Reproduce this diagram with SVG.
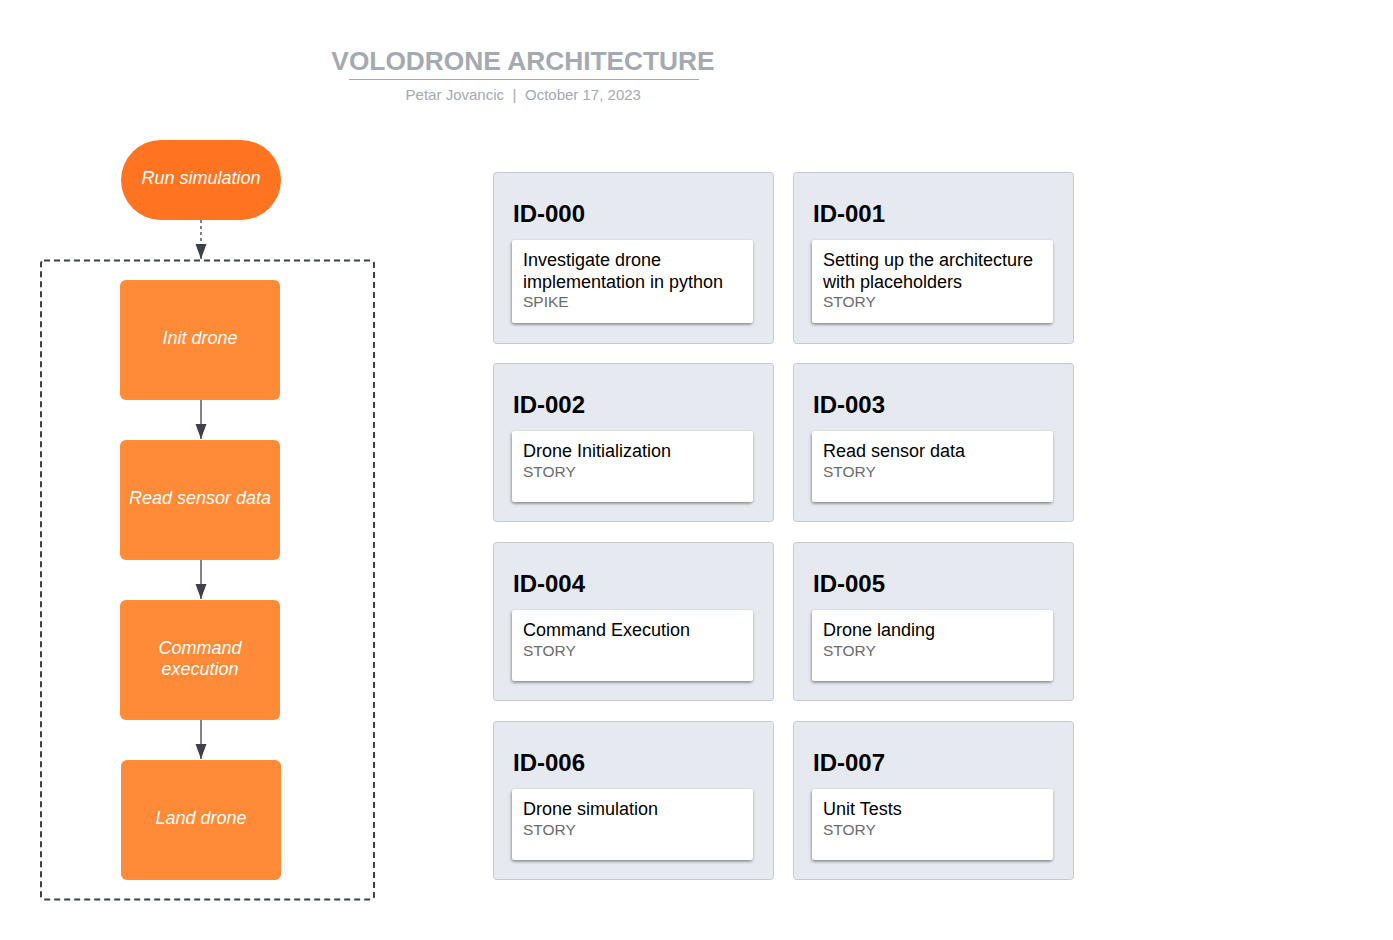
<svg xmlns="http://www.w3.org/2000/svg" width="1393" height="940" viewBox="0 0 1393 940">
<style>
.title{font-family:"Liberation Sans",Arial,sans-serif;font-size:26.3px;font-weight:bold;fill:#a4a9b3;}
.sub{font-family:"Liberation Sans",Arial,sans-serif;font-size:15px;fill:#a4a9b3;}
.flow{fill:#ff8a38;}
.ftxt{font-family:"Liberation Sans",Arial,sans-serif;font-size:18px;font-style:italic;fill:#ffffff;text-anchor:middle;}
.outer{fill:#e6e9ef;stroke:#c5cad2;stroke-width:1;}
.inner{fill:#ffffff;}
.id{font-family:"Liberation Sans",Arial,sans-serif;font-size:24px;font-weight:bold;fill:#000000;}
.t{font-family:"Liberation Sans",Arial,sans-serif;font-size:18px;fill:#000000;}
.ty{font-family:"Liberation Sans",Arial,sans-serif;font-size:15.5px;fill:#6b6b6b;}
.conn{stroke:#3a414a;stroke-width:1.3;fill:none;}
</style>
<defs>
<marker id="ah" markerWidth="16" markerHeight="12" refX="15" refY="5.5" orient="auto" markerUnits="userSpaceOnUse">
<path d="M0,0 L15,5.5 L0,11 Z" fill="#3a414a"/>
</marker>
<filter id="sh" x="-10%" y="-10%" width="120%" height="130%">
<feDropShadow dx="-0.5" dy="1.5" stdDeviation="1.8" flood-color="#000" flood-opacity="0.45"/>
</filter>
</defs>
<g id="header">
<text class="title" x="523" y="70" text-anchor="middle">VOLODRONE ARCHITECTURE</text>
<line x1="349" y1="79.5" x2="699" y2="79.5" stroke="#a4a9b3" stroke-width="1"/>
<text class="sub" x="504" y="100" text-anchor="end">Petar Jovancic</text>
<text class="sub" x="514.5" y="100" text-anchor="middle">|</text>
<text class="sub" x="525" y="100">October 17, 2023</text>
</g>
<g id="container">
<rect x="41" y="260.5" width="333" height="639" rx="3" fill="none" stroke="#3a414a" stroke-width="2" stroke-dasharray="6,4"/>
</g>
<g id="connectors">
<line class="conn" x1="201" y1="220" x2="201" y2="259" stroke-dasharray="3,3" marker-end="url(#ah)"/>
<line class="conn" x1="201" y1="400" x2="201" y2="439" marker-end="url(#ah)"/>
<line class="conn" x1="201" y1="560" x2="201" y2="599" marker-end="url(#ah)"/>
<line class="conn" x1="201" y1="720" x2="201" y2="759" marker-end="url(#ah)"/>
</g>
<g id="run-simulation">
<rect x="121" y="140" width="160" height="80" rx="40" fill="#ff7420"/>
<text class="ftxt" x="201" y="184">Run simulation</text>
</g>
<g id="init-drone">
<rect class="flow" x="120" y="280" width="160" height="120" rx="6"/>
<text class="ftxt" x="200" y="344">Init drone</text>
</g>
<g id="read-sensor-data">
<rect class="flow" x="120" y="440" width="160" height="120" rx="6"/>
<text class="ftxt" x="200" y="504">Read sensor data</text>
</g>
<g id="command-execution">
<rect class="flow" x="120" y="600" width="160" height="120" rx="6"/>
<text class="ftxt" x="200" y="654">Command</text>
<text class="ftxt" x="200" y="675">execution</text>
</g>
<g id="land-drone">
<rect class="flow" x="121" y="760" width="160" height="120" rx="6"/>
<text class="ftxt" x="201" y="824">Land drone</text>
</g>
<g id="id-000">
<rect class="outer" x="493.5" y="172.5" width="280" height="171" rx="3"/>
<text class="id" x="513" y="222">ID-000</text>
<rect class="inner" x="512" y="240" width="241" height="83" rx="3" filter="url(#sh)"/>
<text class="t" x="523" y="266">Investigate drone</text>
<text class="t" x="523" y="288">implementation in python</text>
<text class="ty" x="523" y="307">SPIKE</text>
</g>
<g id="id-001">
<rect class="outer" x="793.5" y="172.5" width="280" height="171" rx="3"/>
<text class="id" x="813" y="222">ID-001</text>
<rect class="inner" x="812" y="240" width="241" height="83" rx="3" filter="url(#sh)"/>
<text class="t" x="823" y="266">Setting up the architecture</text>
<text class="t" x="823" y="288">with placeholders</text>
<text class="ty" x="823" y="307">STORY</text>
</g>
<g id="id-002">
<rect class="outer" x="493.5" y="363.5" width="280" height="158" rx="3"/>
<text class="id" x="513" y="413">ID-002</text>
<rect class="inner" x="512" y="431" width="241" height="71" rx="3" filter="url(#sh)"/>
<text class="t" x="523" y="457">Drone Initialization</text>
<text class="ty" x="523" y="477">STORY</text>
</g>
<g id="id-003">
<rect class="outer" x="793.5" y="363.5" width="280" height="158" rx="3"/>
<text class="id" x="813" y="413">ID-003</text>
<rect class="inner" x="812" y="431" width="241" height="71" rx="3" filter="url(#sh)"/>
<text class="t" x="823" y="457">Read sensor data</text>
<text class="ty" x="823" y="477">STORY</text>
</g>
<g id="id-004">
<rect class="outer" x="493.5" y="542.5" width="280" height="158" rx="3"/>
<text class="id" x="513" y="592">ID-004</text>
<rect class="inner" x="512" y="610" width="241" height="71" rx="3" filter="url(#sh)"/>
<text class="t" x="523" y="636">Command Execution</text>
<text class="ty" x="523" y="656">STORY</text>
</g>
<g id="id-005">
<rect class="outer" x="793.5" y="542.5" width="280" height="158" rx="3"/>
<text class="id" x="813" y="592">ID-005</text>
<rect class="inner" x="812" y="610" width="241" height="71" rx="3" filter="url(#sh)"/>
<text class="t" x="823" y="636">Drone landing</text>
<text class="ty" x="823" y="656">STORY</text>
</g>
<g id="id-006">
<rect class="outer" x="493.5" y="721.5" width="280" height="158" rx="3"/>
<text class="id" x="513" y="771">ID-006</text>
<rect class="inner" x="512" y="789" width="241" height="71" rx="3" filter="url(#sh)"/>
<text class="t" x="523" y="815">Drone simulation</text>
<text class="ty" x="523" y="835">STORY</text>
</g>
<g id="id-007">
<rect class="outer" x="793.5" y="721.5" width="280" height="158" rx="3"/>
<text class="id" x="813" y="771">ID-007</text>
<rect class="inner" x="812" y="789" width="241" height="71" rx="3" filter="url(#sh)"/>
<text class="t" x="823" y="815">Unit Tests</text>
<text class="ty" x="823" y="835">STORY</text>
</g>
</svg>
